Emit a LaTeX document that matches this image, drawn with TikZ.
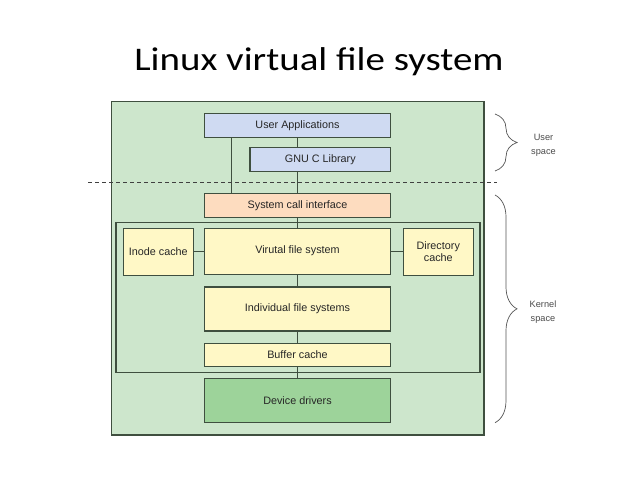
\documentclass[tikz,border=0pt]{standalone}
\usepackage{fontspec}
\setmainfont{Liberation Sans}
\newfontfamily\titlefont{Carlito}
\usetikzlibrary{decorations.pathreplacing}
\definecolor{outerbg}{HTML}{CDE6CC}
\definecolor{bluebox}{HTML}{CFDAF2}
\definecolor{orangebox}{HTML}{FDDCBF}
\definecolor{yellowbox}{HTML}{FFF8C6}
\definecolor{greenbox}{HTML}{9DD39A}
\definecolor{edgecol}{HTML}{3F4F3F}
\definecolor{bracecol}{HTML}{555555}
\tikzset{
  box/.style={draw=edgecol, line width=1.1pt, rectangle, inner sep=0pt, align=center,
    font=\fontsize{10.8}{12.7}\selectfont, text=black!85},
  conn/.style={draw=edgecol, line width=1.1pt},
  bracestyle/.style={draw=bracecol, line width=0.7pt, decorate,
    decoration={brace, amplitude=22pt}},
  sidelabel/.style={align=center, font=\fontsize{9.2}{13.8}\selectfont, text=black!70},
  titlestyle/.style={font=\titlefont\fontsize{33}{38}\selectfont, text=black},
}
\begin{document}
\begin{tikzpicture}[x=1pt, y=-1pt]
\useasboundingbox (0,0) rectangle (638,479);
\fill[white] (0,0) rectangle (638,479);
\node[titlestyle] (title) at (319,62) {\scalebox{1.18}[1]{Linux virtual file system}};
% outer
\node[box, fill=outerbg, minimum width=372.3pt, minimum height=333.3pt] (outer) at (297.8,268.3) {};
\node[box, minimum width=364pt, minimum height=150pt] (kernel) at (298,297.3) {};
% boxes
\node[box, fill=bluebox, minimum width=186.4pt, minimum height=24.4pt] (ua) at (297.5,125.5) {User Applications};
\node[box, fill=bluebox, minimum width=140.7pt, minimum height=24pt] (glibc) at (320.3,159.7) {GNU C Library};
\node[box, fill=orangebox, minimum width=186.4pt, minimum height=24.4pt] (sc) at (297.5,205.5) {System call interface};
\node[box, fill=yellowbox, minimum width=70pt, minimum height=46.7pt] (inode) at (158.3,251.7) {Inode cache};
\node[box, fill=yellowbox, minimum width=186.4pt, minimum height=45.7pt] (vfs) at (297.5,251.2) {Virutal file system};
\node[box, fill=yellowbox, minimum width=70pt, minimum height=46.7pt] (dir) at (438.3,251.7) {Directory\\cache};
\node[box, fill=yellowbox, minimum width=186.4pt, minimum height=44pt] (ifs) at (297.5,309) {Individual file systems};
\node[box, fill=yellowbox, minimum width=186.4pt, minimum height=23.4pt] (buf) at (297.5,355) {Buffer cache};
\node[box, fill=greenbox, minimum width=186.4pt, minimum height=44pt] (dev) at (297.5,400.3) {Device drivers};
% connectors
\draw[conn] ([xshift=27.4pt]ua.south west) -- ([xshift=27.4pt]sc.north west);
\draw[conn] (ua.south) -- (ua.south |- glibc.north);
\draw[conn] (sc.north |- glibc.south) -- (sc.north);
\draw[conn] (sc.south) -- (vfs.north);
\draw[conn] (inode.east |- vfs.west) -- (vfs.west);
\draw[conn] (vfs.east) -- (dir.west |- vfs.east);
\draw[conn] (vfs.south) -- (ifs.north);
\draw[conn] (ifs.south) -- (buf.north);
\draw[conn] (buf.south) -- (dev.north);
% dashed separator
\coordinate (dl) at (88,182.7);
\coordinate (dr) at (497,182.7);
\draw[draw=black!75, line width=0.9pt, dash pattern=on 4pt off 3pt] (dl) -- (dr);
% braces
\coordinate (ubt) at (495,114);
\coordinate (ubb) at (495,171);
\coordinate (kbt) at (495,195);
\coordinate (kbb) at (495,422.7);
\draw[bracestyle] (ubt) -- (ubb);
\draw[bracestyle] (kbt) -- (kbb);
\node[sidelabel] (ulabel) at (543.5,145) {User\\space};
\node[sidelabel] (klabel) at (543,312) {Kernel\\space};
\end{tikzpicture}
\end{document}
